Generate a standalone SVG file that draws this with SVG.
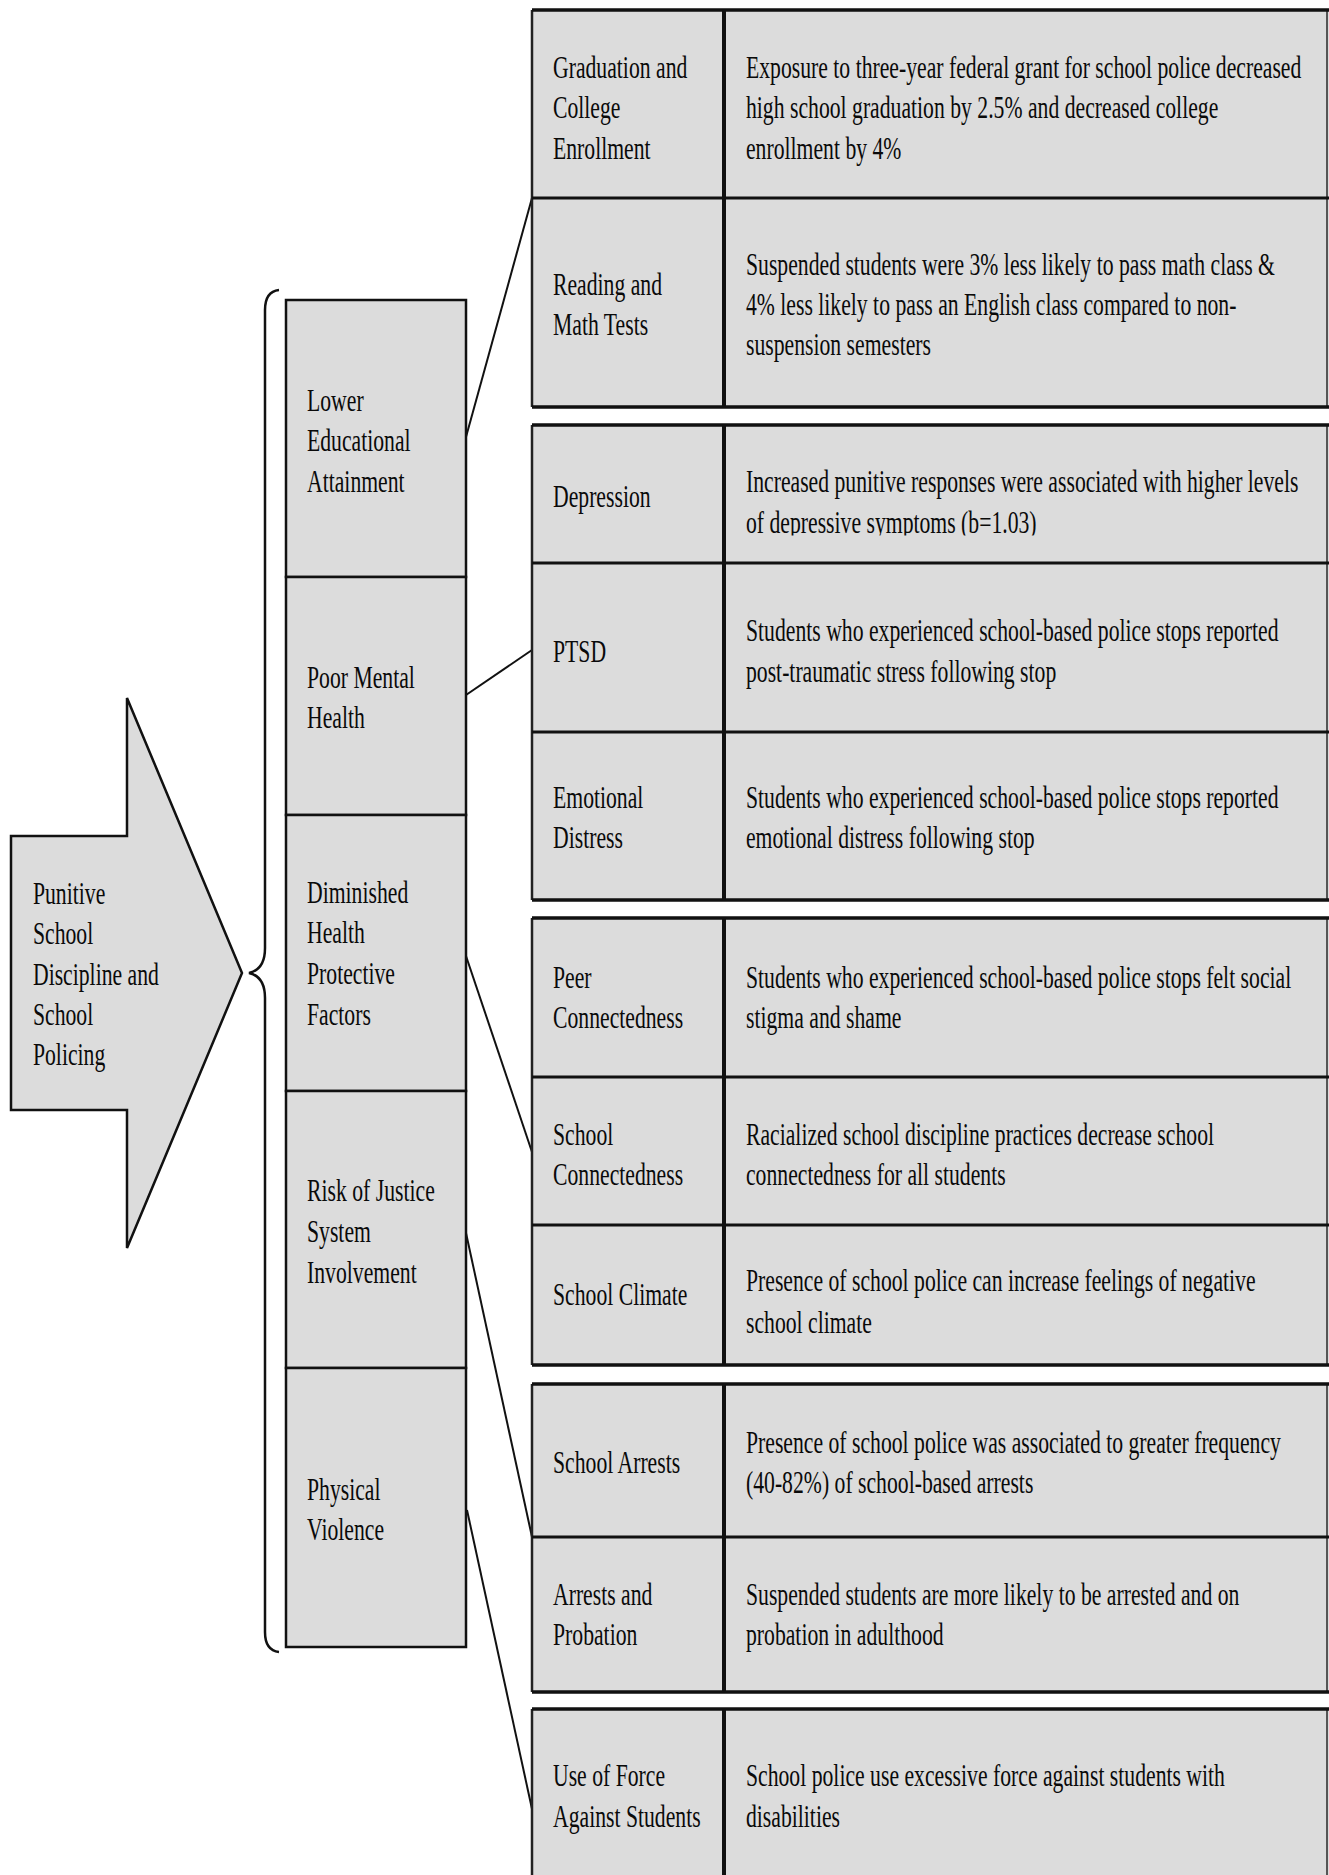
<svg xmlns="http://www.w3.org/2000/svg" width="1329" height="1875" viewBox="0 0 1329 1875">
<defs>
<style>
.bg{fill:#ffffff}
.cell{fill:#dcdcdc}
.box{fill:#dcdcdc;stroke:#111;stroke-width:2.5}
.hb{stroke:#111;stroke-width:3.5;fill:none}
.ed{stroke:#222;stroke-width:2.5;fill:none}
.re{stroke:#555;stroke-width:2;fill:none}
.dv{stroke:#111;stroke-width:4;fill:none}
.rs{stroke:#111;stroke-width:3;fill:none}
.ln{stroke:#111;stroke-width:2;fill:none}
.br{stroke:#111;stroke-width:2.5;fill:none}
.t{font-family:"Liberation Serif","Times New Roman",serif;font-size:31px;fill:#0a0a0a}
</style>
<clipPath id="clipDep"><rect x="700" y="425" width="700" height="110.5"/></clipPath>
</defs>
<rect class="bg" x="0" y="0" width="1329" height="1875"/>

<g id="source">
<polygon class="box" points="11,836 127,836 127,698 242,973 127,1248 127,1110 11,1110"/>
<text class="t" transform="scale(0.7 1)"><tspan x="47.1" y="904">Punitive</tspan><tspan x="47.1" y="944">School</tspan><tspan x="47.1" y="985">Discipline and</tspan><tspan x="47.1" y="1025">School</tspan><tspan x="47.1" y="1065">Policing</tspan></text>
</g>

<g id="brace">
<path class="br" d="M279,290 C270,291 265,297 265,310 L265,948 C265,964 258,971 249,973 C258,975 265,982 265,998 L265,1632 C265,1645 270,1651 279,1652"/>
</g>

<g id="outcomes">
<g id="lower-educational-attainment">
<rect class="box" x="286" y="300" width="180" height="277"/>
<text class="t" transform="scale(0.7 1)"><tspan x="438.6" y="411">Lower</tspan><tspan x="438.6" y="451">Educational</tspan><tspan x="438.6" y="492">Attainment</tspan></text>
</g>
<g id="poor-mental-health">
<rect class="box" x="286" y="577" width="180" height="238"/>
<text class="t" transform="scale(0.7 1)"><tspan x="438.6" y="688">Poor Mental</tspan><tspan x="438.6" y="728">Health</tspan></text>
</g>
<g id="diminished-health-protective-factors">
<rect class="box" x="286" y="815" width="180" height="276"/>
<text class="t" transform="scale(0.7 1)"><tspan x="438.6" y="903">Diminished</tspan><tspan x="438.6" y="943">Health</tspan><tspan x="438.6" y="984">Protective</tspan><tspan x="438.6" y="1025">Factors</tspan></text>
</g>
<g id="risk-of-justice-system-involvement">
<rect class="box" x="286" y="1091" width="180" height="277"/>
<text class="t" transform="scale(0.7 1)"><tspan x="438.6" y="1201">Risk of Justice</tspan><tspan x="438.6" y="1242">System</tspan><tspan x="438.6" y="1283">Involvement</tspan></text>
</g>
<g id="physical-violence">
<rect class="box" x="286" y="1368" width="180" height="279"/>
<text class="t" transform="scale(0.7 1)"><tspan x="438.6" y="1500">Physical</tspan><tspan x="438.6" y="1540">Violence</tspan></text>
</g>
</g>

<g id="connectors">
<line class="ln" x1="466" y1="437" x2="532" y2="198"/>
<line class="ln" x1="466" y1="695" x2="532" y2="650"/>
<line class="ln" x1="466" y1="956" x2="532" y2="1152"/>
<line class="ln" x1="466" y1="1233" x2="532" y2="1537"/>
<line class="ln" x1="467" y1="1510" x2="532" y2="1809"/>
</g>

<g id="table-education">
<rect class="cell" x="532" y="10" width="800" height="397"/>
<path class="ed" d="M532,10 V407"/><path class="re" d="M1327,10 V407"/>
<path class="hb" d="M532,10 H1335 M532,407 H1335"/>
<path class="rs" d="M532,198 H1335"/>
<path class="dv" d="M724,10 V407"/>
<g id="graduation-and-college-enrollment">
<text class="t" transform="scale(0.7 1)"><tspan x="790" y="78">Graduation and</tspan><tspan x="790" y="118">College</tspan><tspan x="790" y="159">Enrollment</tspan></text>
<text class="t" transform="scale(0.7 1)"><tspan x="1065.7" y="78">Exposure to three-year federal grant for school police decreased</tspan><tspan x="1065.7" y="118">high school graduation by 2.5% and decreased college</tspan><tspan x="1065.7" y="159">enrollment by 4%</tspan></text>
</g>
<g id="reading-and-math-tests">
<text class="t" transform="scale(0.7 1)"><tspan x="790" y="295">Reading and</tspan><tspan x="790" y="335">Math Tests</tspan></text>
<text class="t" transform="scale(0.7 1)"><tspan x="1065.7" y="275">Suspended students were 3% less likely to pass math class &amp;</tspan><tspan x="1065.7" y="315">4% less likely to pass an English class compared to non-</tspan><tspan x="1065.7" y="355">suspension semesters</tspan></text>
</g>
</g>

<g id="table-mental-health">
<rect class="cell" x="532" y="425" width="800" height="475"/>
<path class="ed" d="M532,425 V900"/><path class="re" d="M1327,425 V900"/>
<path class="hb" d="M532,425 H1335 M532,900 H1335"/>
<path class="rs" d="M532,563 H1335 M532,732 H1335"/>
<path class="dv" d="M724,425 V900"/>
<g id="depression">
<text class="t" transform="scale(0.7 1)"><tspan x="790" y="507">Depression</tspan></text>
<g clip-path="url(#clipDep)">
<text class="t" transform="scale(0.7 1)"><tspan x="1065.7" y="492">Increased punitive responses were associated with higher levels</tspan><tspan x="1065.7" y="533">of depressive symptoms (b=1.03)</tspan></text>
</g>
</g>
<g id="ptsd">
<text class="t" transform="scale(0.7 1)"><tspan x="790" y="662">PTSD</tspan></text>
<text class="t" transform="scale(0.7 1)"><tspan x="1065.7" y="641">Students who experienced school-based police stops reported</tspan><tspan x="1065.7" y="682">post-traumatic stress following stop</tspan></text>
</g>
<g id="emotional-distress">
<text class="t" transform="scale(0.7 1)"><tspan x="790" y="808">Emotional</tspan><tspan x="790" y="848">Distress</tspan></text>
<text class="t" transform="scale(0.7 1)"><tspan x="1065.7" y="808">Students who experienced school-based police stops reported</tspan><tspan x="1065.7" y="848">emotional distress following stop</tspan></text>
</g>
</g>

<g id="table-protective-factors">
<rect class="cell" x="532" y="918" width="800" height="447"/>
<path class="ed" d="M532,918 V1365"/><path class="re" d="M1327,918 V1365"/>
<path class="hb" d="M532,918 H1335 M532,1365 H1335"/>
<path class="rs" d="M532,1077 H1335 M532,1225 H1335"/>
<path class="dv" d="M724,918 V1365"/>
<g id="peer-connectedness">
<text class="t" transform="scale(0.7 1)"><tspan x="790" y="988">Peer</tspan><tspan x="790" y="1028">Connectedness</tspan></text>
<text class="t" transform="scale(0.7 1)"><tspan x="1065.7" y="988">Students who experienced school-based police stops felt social</tspan><tspan x="1065.7" y="1028">stigma and shame</tspan></text>
</g>
<g id="school-connectedness">
<text class="t" transform="scale(0.7 1)"><tspan x="790" y="1145">School</tspan><tspan x="790" y="1185">Connectedness</tspan></text>
<text class="t" transform="scale(0.7 1)"><tspan x="1065.7" y="1145">Racialized school discipline practices decrease school</tspan><tspan x="1065.7" y="1185">connectedness for all students</tspan></text>
</g>
<g id="school-climate">
<text class="t" transform="scale(0.7 1)"><tspan x="790" y="1305">School Climate</tspan></text>
<text class="t" transform="scale(0.7 1)"><tspan x="1065.7" y="1291">Presence of school police can increase feelings of negative</tspan><tspan x="1065.7" y="1333">school climate</tspan></text>
</g>
</g>

<g id="table-justice">
<rect class="cell" x="532" y="1384" width="800" height="308"/>
<path class="ed" d="M532,1384 V1692"/><path class="re" d="M1327,1384 V1692"/>
<path class="hb" d="M532,1384 H1335 M532,1692 H1335"/>
<path class="rs" d="M532,1537 H1335"/>
<path class="dv" d="M724,1384 V1692"/>
<g id="school-arrests">
<text class="t" transform="scale(0.7 1)"><tspan x="790" y="1473">School Arrests</tspan></text>
<text class="t" transform="scale(0.7 1)"><tspan x="1065.7" y="1453">Presence of school police was associated to greater frequency</tspan><tspan x="1065.7" y="1493">(40-82%) of school-based arrests</tspan></text>
</g>
<g id="arrests-and-probation">
<text class="t" transform="scale(0.7 1)"><tspan x="790" y="1605">Arrests and</tspan><tspan x="790" y="1645">Probation</tspan></text>
<text class="t" transform="scale(0.7 1)"><tspan x="1065.7" y="1605">Suspended students are more likely to be arrested and on</tspan><tspan x="1065.7" y="1645">probation in adulthood</tspan></text>
</g>
</g>

<g id="table-violence">
<rect class="cell" x="532" y="1709" width="800" height="180"/>
<path class="ed" d="M532,1709 V1880"/><path class="re" d="M1327,1709 V1880"/>
<path class="hb" d="M532,1709 H1335"/>
<path class="dv" d="M724,1709 V1880"/>
<g id="use-of-force-against-students">
<text class="t" transform="scale(0.7 1)"><tspan x="790" y="1786">Use of Force</tspan><tspan x="790" y="1827">Against Students</tspan></text>
<text class="t" transform="scale(0.7 1)"><tspan x="1065.7" y="1786">School police use excessive force against students with</tspan><tspan x="1065.7" y="1827">disabilities</tspan></text>
</g>
</g>
</svg>
